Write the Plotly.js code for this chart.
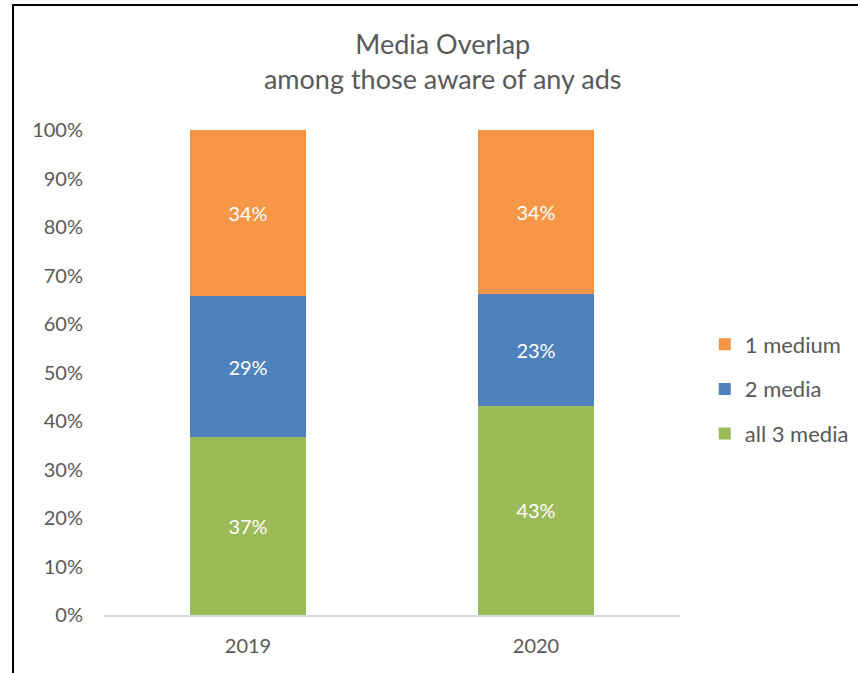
<!DOCTYPE html>
<html>
<head>
<meta charset="utf-8">
<script src="https://cdn.plot.ly/plotly-3.0.1.min.js"></script>
<style>
  html, body { margin:0; padding:0; background:#fff; }
  #frame { position:absolute; left:12px; top:4px; width:860px; height:680px;
           border-left:2px solid #000; border-top:2px solid #000; pointer-events:none; z-index:5; }
  #chart { position:absolute; left:0; top:0; width:858px; height:673px; }
</style>
</head>
<body>
<div id="chart"></div>
<div id="frame"></div>
<script>
const years = ['2019', '2020'];
const all3Media = [36.6, 43.1];
const twoMedia = [29.2, 23.1];
const oneMedium = [34.2, 33.8];
const seriesNames = ['all 3 media', '2 media', '1 medium'];
const seriesColors = ['#9BBB59', '#4F81BD', '#F79646'];
const seriesRanks = [3, 2, 1];
const seriesValues = [all3Media, twoMedia, oneMedium];
const yTickVals = [0,10,20,30,40,50,60,70,80,90,100];
const yTickText = yTickVals.map(v => v + '%');

const font = 'Lato, "Open Sans", sans-serif';

const traces = seriesValues.map((vals, i) => ({
  type: 'bar',
  x: years,
  y: vals,
  name: seriesNames[i],
  legendgroup: 'g' + i,
  legendrank: seriesRanks[i],
  marker: { color: seriesColors[i], line: { width: 0 } },
  text: vals.map(v => Math.round(v) + '%'),
  texttemplate: '%{text}',
  textposition: 'inside',
  insidetextanchor: 'middle',
  textfont: { color: '#ffffff', size: 20, family: font },
  hoverinfo: 'none'
}));

const layout = {
  width: 858, height: 673,
  margin: { l: 104, r: 178, t: 130, b: 58, autoexpand: false },
  paper_bgcolor: '#fff', plot_bgcolor: '#fff',
  barmode: 'stack',
  bargap: 0.6,
  showlegend: true,
  font: { family: font, color: '#595959', size: 20 },
  title: {
    text: 'Media Overlap<br>among those aware of any ads',
    font: { size: 27, color: '#595959', family: font },
    x: 0.516, xanchor: 'center', y: 0.9205, yanchor: 'top'
  },
  xaxis: {
    type: 'category',
    showline: true, linecolor: '#D9D9D9', linewidth: 1.5,
    showgrid: false, zeroline: false, ticks: '',
    tickfont: { size: 20, color: '#595959', family: font },
    ticklabelstandoff: 12
  },
  yaxis: {
    range: [0, 100],
    tickvals: yTickVals, ticktext: yTickText,
    showgrid: false, zeroline: false, showline: false, ticks: '',
    tickfont: { size: 20, color: '#595959', family: font },
    ticklabelstandoff: 20
  },
  legend: {
    x: 1.043, xanchor: 'left', y: 0.466, yanchor: 'middle',
    traceorder: 'grouped',
    tracegroupgap: 13,
    font: { size: 22, color: '#595959', family: font },
    itemwidth: 30
  }
};

Plotly.newPlot('chart', traces, layout, { displayModeBar: false, staticPlot: true });
</script>
</body>
</html>
